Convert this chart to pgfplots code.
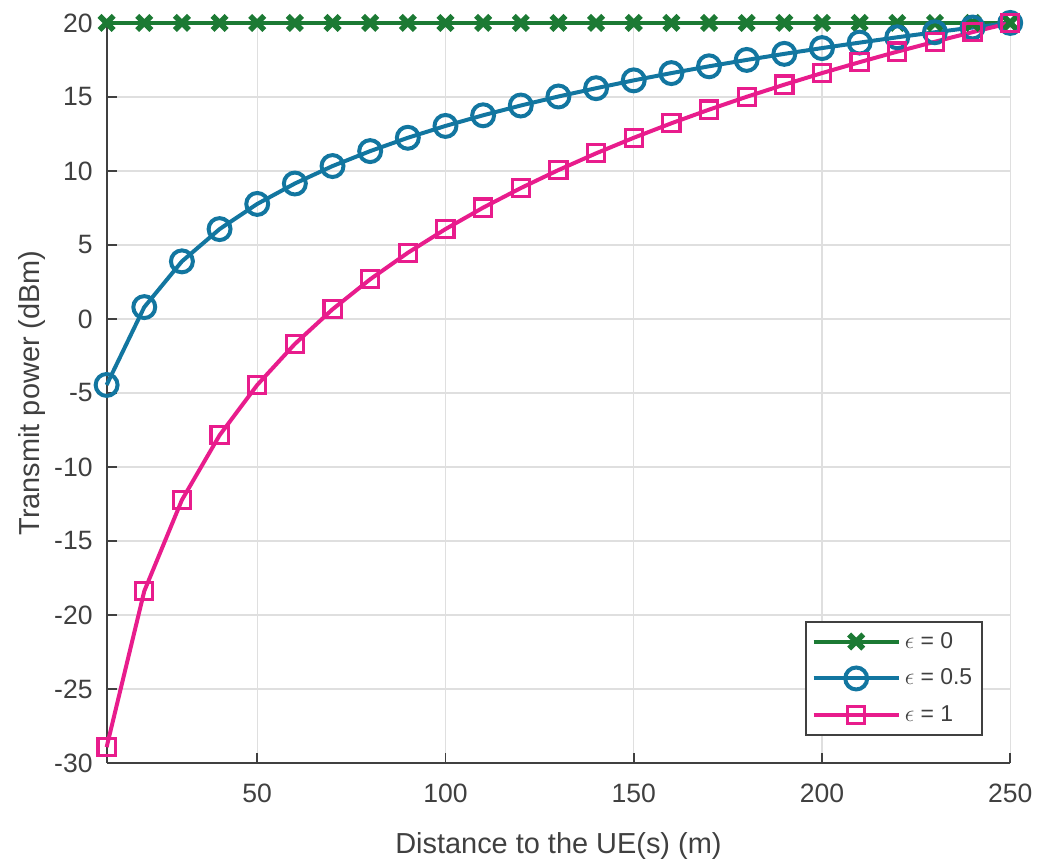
\documentclass[border=0pt]{standalone}
\usepackage{pgfplots}
\pgfplotsset{compat=1.18}
\usepackage{fontspec}
\setmainfont{Liberation Sans}
\definecolor{eGreen}{RGB}{28,122,52}
\definecolor{eBlue}{RGB}{18,118,160}
\definecolor{ePink}{RGB}{232,28,140}
\definecolor{tickGray}{RGB}{64,64,64}
\begin{document}
\begin{tikzpicture}
\begin{axis}[
    scale only axis,
    width=453pt, height=371pt,
    xmin=10, xmax=250,
    ymin=-30, ymax=20,
    xtick={50,100,150,200,250},
    ytick={-30,-25,...,20},
    axis x line*=bottom,
    axis y line*=left,
    axis line style={tickGray, line width=0.9pt, -},
    tick style={tickGray, line width=0.9pt},
    tick align=inside,
    major tick length=5pt,
    grid=major,
    grid style={gray!25, line width=0.6pt},
    tick label style={font=\fontsize{13.3}{15}\selectfont, text=tickGray},
    xticklabel style={yshift=-7pt},
    yticklabel style={xshift=-3.5pt},
    label style={font=\fontsize{14.5}{17}\selectfont, text=tickGray},
    xlabel={Distance to the UE(s) (m)},
    ylabel={Transmit power (dBm)},
    xlabel style={at={(axis description cs:0.5,-0.112)}, anchor=center},
    ylabel style={at={(axis description cs:-0.083,0.5)}, anchor=center},
    /pgf/number format/assume math mode=true,
    legend style={at={(0.97,0.037)}, anchor=south east,
        draw=tickGray, line width=0.9pt, fill=white,
        font=\fontsize{11.5}{13}\selectfont, text=tickGray,
        row sep=5pt, inner sep=3pt},
    legend cell align=left,
    legend image code/.code={
        \draw[mark repeat=2,mark phase=2] plot coordinates {(0cm,0cm) (0.75cm,0cm) (1.5cm,0cm)};
    },
    clip=false,
]
\addplot[color=eGreen, line width=2pt, mark=x, mark size=5pt,
    mark options={line width=2.8pt}]
coordinates {
(10,20)(20,20)(30,20)(40,20)(50,20)(60,20)(70,20)(80,20)(90,20)(100,20)
(110,20)(120,20)(130,20)(140,20)(150,20)(160,20)(170,20)(180,20)(190,20)(200,20)
(210,20)(220,20)(230,20)(240,20)(250,20)
};
\addplot[color=eBlue, line width=2pt, mark=o, mark size=5.5pt,
    mark options={line width=2pt}]
coordinates {
(10,-4.46)(20,0.80)(30,3.89)(40,6.07)(50,7.77)(60,9.15)(70,10.33)(80,11.34)(90,12.24)(100,13.04)
(110,13.76)(120,14.42)(130,15.03)(140,15.59)(150,16.12)(160,16.61)(170,17.07)(180,17.50)(190,17.91)(200,18.30)
(210,18.67)(220,19.03)(230,19.37)(240,19.69)(250,20)
};
\addplot[color=ePink, line width=2pt, mark=square, mark size=4.3pt,
    mark options={line width=1.6pt}]
coordinates {
(10,-28.93)(20,-18.39)(30,-12.23)(40,-7.86)(50,-4.46)(60,-1.69)(70,0.65)(80,2.68)(90,4.47)(100,6.07)
(110,7.52)(120,8.84)(130,10.06)(140,11.19)(150,12.24)(160,13.22)(170,14.14)(180,15.01)(190,15.83)(200,16.61)
(210,17.35)(220,18.06)(230,18.73)(240,19.38)(250,20)
};
\legend{$\epsilon$ = 0, $\epsilon$ = 0.5, $\epsilon$ = 1}
% keep white room above and left of the plot, as in the reference
\path (axis description cs:-0.118,1.031);
\end{axis}
\end{tikzpicture}
\end{document}
